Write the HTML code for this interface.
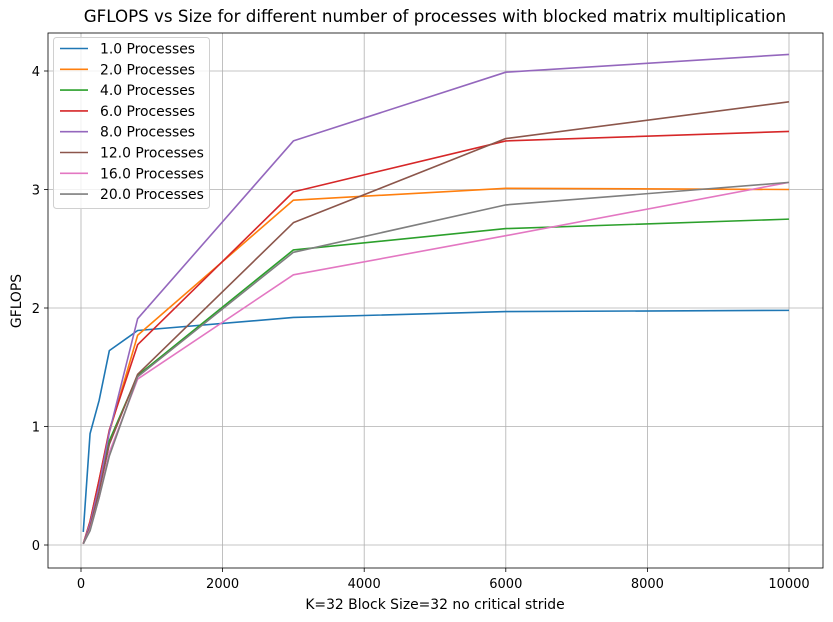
<!DOCTYPE html>
<html><head><meta charset="utf-8"><style>
body{margin:0;background:#fff;}
svg{display:block;font-family:"DejaVu Sans","Liberation Sans",sans-serif;}
</style></head><body>
<svg id="chart" width="833" height="622"></svg>
<script>
const sizes=[32,128,256,400,800,3000,6000,10000];
const procLabels=["1.0 Processes","2.0 Processes","4.0 Processes","6.0 Processes","8.0 Processes","12.0 Processes","16.0 Processes","20.0 Processes"];
const s1=[0.11,0.94,1.22,1.64,1.81,1.92,1.97,1.98];
const s2=[0.01,0.2,0.55,0.95,1.77,2.91,3.01,3.00];
const s4=[0.01,0.15,0.5,0.88,1.43,2.49,2.67,2.75];
const s6=[0.01,0.2,0.55,0.97,1.69,2.98,3.41,3.49];
const s8=[0.01,0.18,0.5,0.95,1.91,3.41,3.99,4.14];
const s12=[0.01,0.15,0.45,0.85,1.44,2.72,3.43,3.74];
const s16=[0.01,0.13,0.4,0.78,1.40,2.28,2.61,3.06];
const s20=[0.01,0.12,0.4,0.75,1.42,2.47,2.87,3.06];
const xTicks=[0,2000,4000,6000,8000,10000];
const yTicks=[0,1,2,3,4];
const colors=["#1f77b4","#ff7f0e","#2ca02c","#d62728","#9467bd","#8c564b","#e377c2","#7f7f7f"];
const series=[s1,s2,s4,s6,s8,s12,s16,s20];
const NS="http://www.w3.org/2000/svg";
const svg=document.getElementById('chart');
const L=48,R=823,T=33,B=568;
function X(v){return 81+v*(789-81)/10000;}
function Y(v){return 545-v*(545-71)/4;}
function el(tag,attrs,parent){const e=document.createElementNS(NS,tag);for(const k in attrs)e.setAttribute(k,attrs[k]);(parent||svg).appendChild(e);return e;}
xTicks.forEach(t=>{
  const g=el('line',{x1:X(t),x2:X(t),y1:T,y2:B,stroke:'#b0b0b0','stroke-width':0.8});
  
  
  el('line',{x1:X(t),x2:X(t),y1:B,y2:B+4,stroke:'#000','stroke-width':0.8});
  const tx=el('text',{x:X(t),y:B+20,'text-anchor':'middle','font-size':13,fill:'#000'});tx.textContent=t;
  
  
});
yTicks.forEach(t=>{
  const g=el('line',{x1:L,x2:R,y1:Y(t),y2:Y(t),stroke:'#b0b0b0','stroke-width':0.8});
  
  
  el('line',{x1:L-4,x2:L,y1:Y(t),y2:Y(t),stroke:'#000','stroke-width':0.8});
  const tx=el('text',{x:L-8,y:Y(t)+5,'text-anchor':'end','font-size':13,fill:'#000'});tx.textContent=t;
  
  
});
series.forEach((s,i)=>{
  const p=el('polyline',{points:s.map((v,j)=>X(sizes[j])+','+Y(v)).join(' '),fill:'none',stroke:colors[i],'stroke-width':1.6,'stroke-linejoin':'round'});
  
  
});
const fr=el('rect',{x:L,y:T,width:R-L,height:B-T,fill:'none',stroke:'#000','stroke-width':0.8});


const lg=el('g',{});


el('rect',{x:53.5,y:37.5,width:156,height:171,rx:3,fill:'#fff','fill-opacity':0.8,stroke:'#d0d0d0'},lg);
procLabels.forEach((lab,i)=>{
  const y=48.5+i*20.8;
  const ln=el('line',{x1:60,x2:88,y1:y,y2:y,stroke:colors[i],'stroke-width':1.6},lg);
  
  
  const tx=el('text',{x:100,y:y+5,'font-size':13.9,fill:'#000'},lg);tx.textContent=lab;
  
  
});
const title=el('text',{x:435,y:22,'text-anchor':'middle','font-size':16.7,fill:'#000'});title.textContent="GFLOPS vs Size for different number of processes with blocked matrix multiplication";


const xt=el('text',{x:435,y:609,'text-anchor':'middle','font-size':13.9,fill:'#000'});xt.textContent="K=32 Block Size=32 no critical stride";


const yt=el('text',{x:0,y:0,'text-anchor':'middle','font-size':13.9,fill:'#000',transform:'translate(21,301) rotate(-90)'});yt.textContent="GFLOPS";


</script>
</body></html>
